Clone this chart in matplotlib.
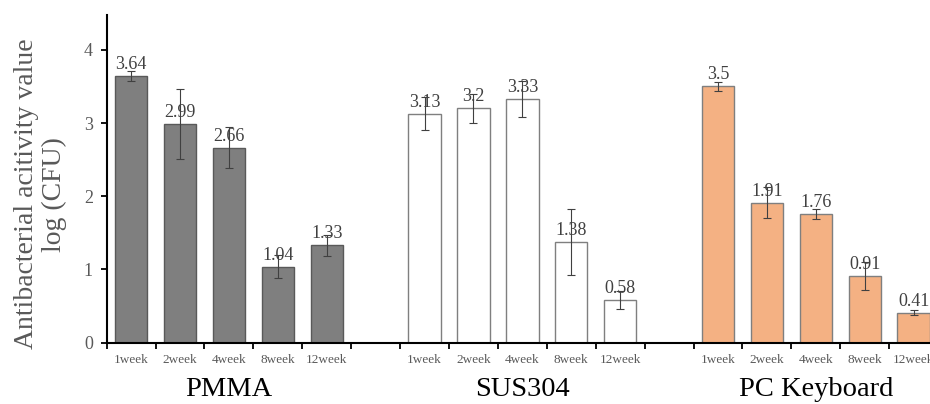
import matplotlib
matplotlib.use('Agg')
import matplotlib.pyplot as plt
import numpy as np

plt.rcParams['font.family'] = ['Liberation Serif', 'DejaVu Serif']

weeks = ['1week', '2week', '4week', '8week', '12week']
groups = ['PMMA', 'SUS304', 'PC Keyboard']

pmma = [3.64, 2.99, 2.66, 1.04, 1.33]
pmma_err = [0.07, 0.48, 0.28, 0.16, 0.14]
sus = [3.13, 3.2, 3.33, 1.38, 0.58]
sus_err = [0.22, 0.2, 0.25, 0.45, 0.12]
pc = [3.5, 1.91, 1.76, 0.91, 0.41]
pc_err = [0.06, 0.21, 0.065, 0.19, 0.03]

values = [pmma, sus, pc]
errors = [pmma_err, sus_err, pc_err]
faces = ['#7f7f7f', '#ffffff', '#f4b183']
edges = ['#595959', '#7f7f7f', '#7f7f7f']

fig = plt.figure(figsize=(9.3, 4.04), dpi=100)
ax = fig.add_axes([0.1147, 0.1517, 0.894, 0.812])

tick_pos = []
tick_lab = []
for g in range(3):
    start = g * 6
    x = np.arange(start, start + 5)
    ax.bar(x, values[g], width=0.66, color=faces[g], edgecolor=edges[g], linewidth=1, zorder=2)
    ax.errorbar(x, values[g], yerr=errors[g], fmt='none', ecolor='#404040',
                elinewidth=0.8, capsize=3, capthick=0.8, zorder=3)
    for xi, v in zip(x, values[g]):
        ax.text(xi, v + 0.04, f'{v:g}', ha='center', va='bottom', fontsize=13, color='#404040', zorder=4)
    tick_pos += list(x)
    tick_lab += weeks
    ax.text(start + 2, -0.47, groups[g], ha='center', va='top', fontsize=20.5, color='black')

ax.set_xlim(-0.5, 16.5)
ax.set_ylim(0, 4.48)
ax.set_xticks(tick_pos)
ax.set_xticklabels(tick_lab, fontsize=9.5, color='#595959')
ax.tick_params(axis='x', which='major', length=0, pad=8)
ax.set_xticks(np.arange(-0.5, 17, 1), minor=True)
ax.tick_params(axis='x', which='minor', length=4, width=1.3, direction='out')

ax.set_yticks([0, 1, 2, 3, 4])
ax.tick_params(axis='y', labelsize=13, labelcolor='#595959', length=4, width=1.3, pad=6)
ax.set_ylabel('Antibacterial acitivity value\nlog (CFU)', fontsize=20, color='#595959',
              linespacing=1.15)
ax.yaxis.set_label_coords(-0.048, 0.453)

ax.spines['top'].set_visible(False)
ax.spines['right'].set_visible(False)
ax.spines['left'].set_linewidth(1.5)
ax.spines['bottom'].set_linewidth(1.5)

fig.savefig('out.png', dpi=100)
